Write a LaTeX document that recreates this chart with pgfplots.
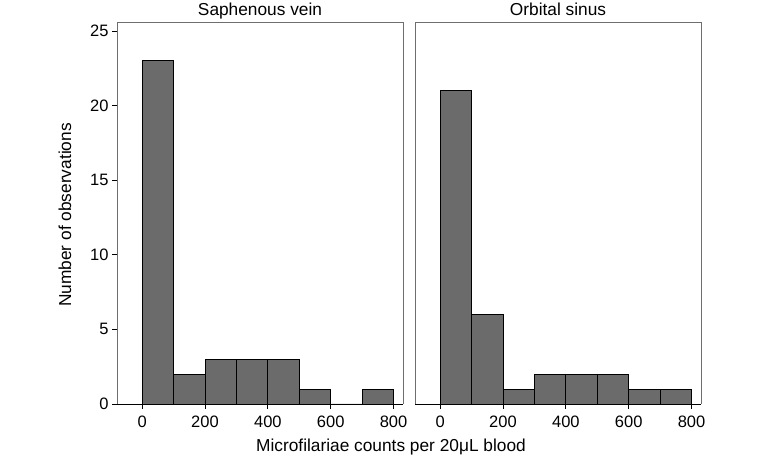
\documentclass[border=0pt]{standalone}
\usepackage{pgfplots}
\pgfplotsset{compat=1.18}
\usepackage{fontspec}
\setmainfont{Liberation Sans}
\definecolor{barfill}{RGB}{107,107,107}
\definecolor{framec}{RGB}{110,110,110}
\newcommand{\panelframe}{%
  \draw[framec, line width=0.9pt] (rel axis cs:0,0) -- (rel axis cs:0,1) -- (rel axis cs:1,1) -- (rel axis cs:1,0);
  \draw[black, line width=0.9pt] (rel axis cs:0,0) -- (rel axis cs:1,0);}
\begin{document}
\begin{tikzpicture}
\path[use as bounding box] (0pt,0pt) rectangle (763pt,460pt);
\pgfplotsset{
  panel/.style={
    scale only axis,
    width=286pt, height=382pt,
    xmin=-80, xmax=830, ymin=0, ymax=25.6,
    axis line style={draw=none},
    xtick={0,200,400,600,800},
    tick align=outside,
    tick pos=lower,
    major tick length=5pt,
    tick style={black, line width=0.8pt},
    ticklabel style={font=\fontsize{16.5}{19}\selectfont},
    xticklabel style={yshift=-3pt},
    /pgf/number format/assume math mode=true,
    clip=false,
  },
  histo/.style={ybar interval, fill=barfill, draw=black, line width=0.8pt},
}
\begin{axis}[panel, at={(117pt,56pt)}, anchor=south west,
  ytick={0,5,10,15,20,25}]
\addplot[histo] coordinates {(0,23) (100,2) (200,3) (300,3) (400,3) (500,1) (600,0) (700,1) (800,1)};
\panelframe
\end{axis}
\begin{axis}[panel, at={(415pt,56pt)}, anchor=south west,
  ytick=\empty]
\addplot[histo] coordinates {(0,21) (100,6) (200,1) (300,2) (400,2) (500,2) (600,1) (700,1) (800,1)};
\panelframe
\end{axis}
\node[anchor=base, font=\fontsize{17.3}{20}\selectfont] at (260pt,444pt) {Saphenous vein};
\node[anchor=base, font=\fontsize{17.3}{20}\selectfont] at (558pt,444pt) {Orbital sinus};
\node[rotate=90, anchor=center, font=\fontsize{17.3}{20}\selectfont] at (65pt,245pt) {Number of observations};
\node[anchor=base, font=\fontsize{17.3}{20}\selectfont] at (391pt,8pt) {Microfilariae counts per 20μL blood};
\end{tikzpicture}
\end{document}
